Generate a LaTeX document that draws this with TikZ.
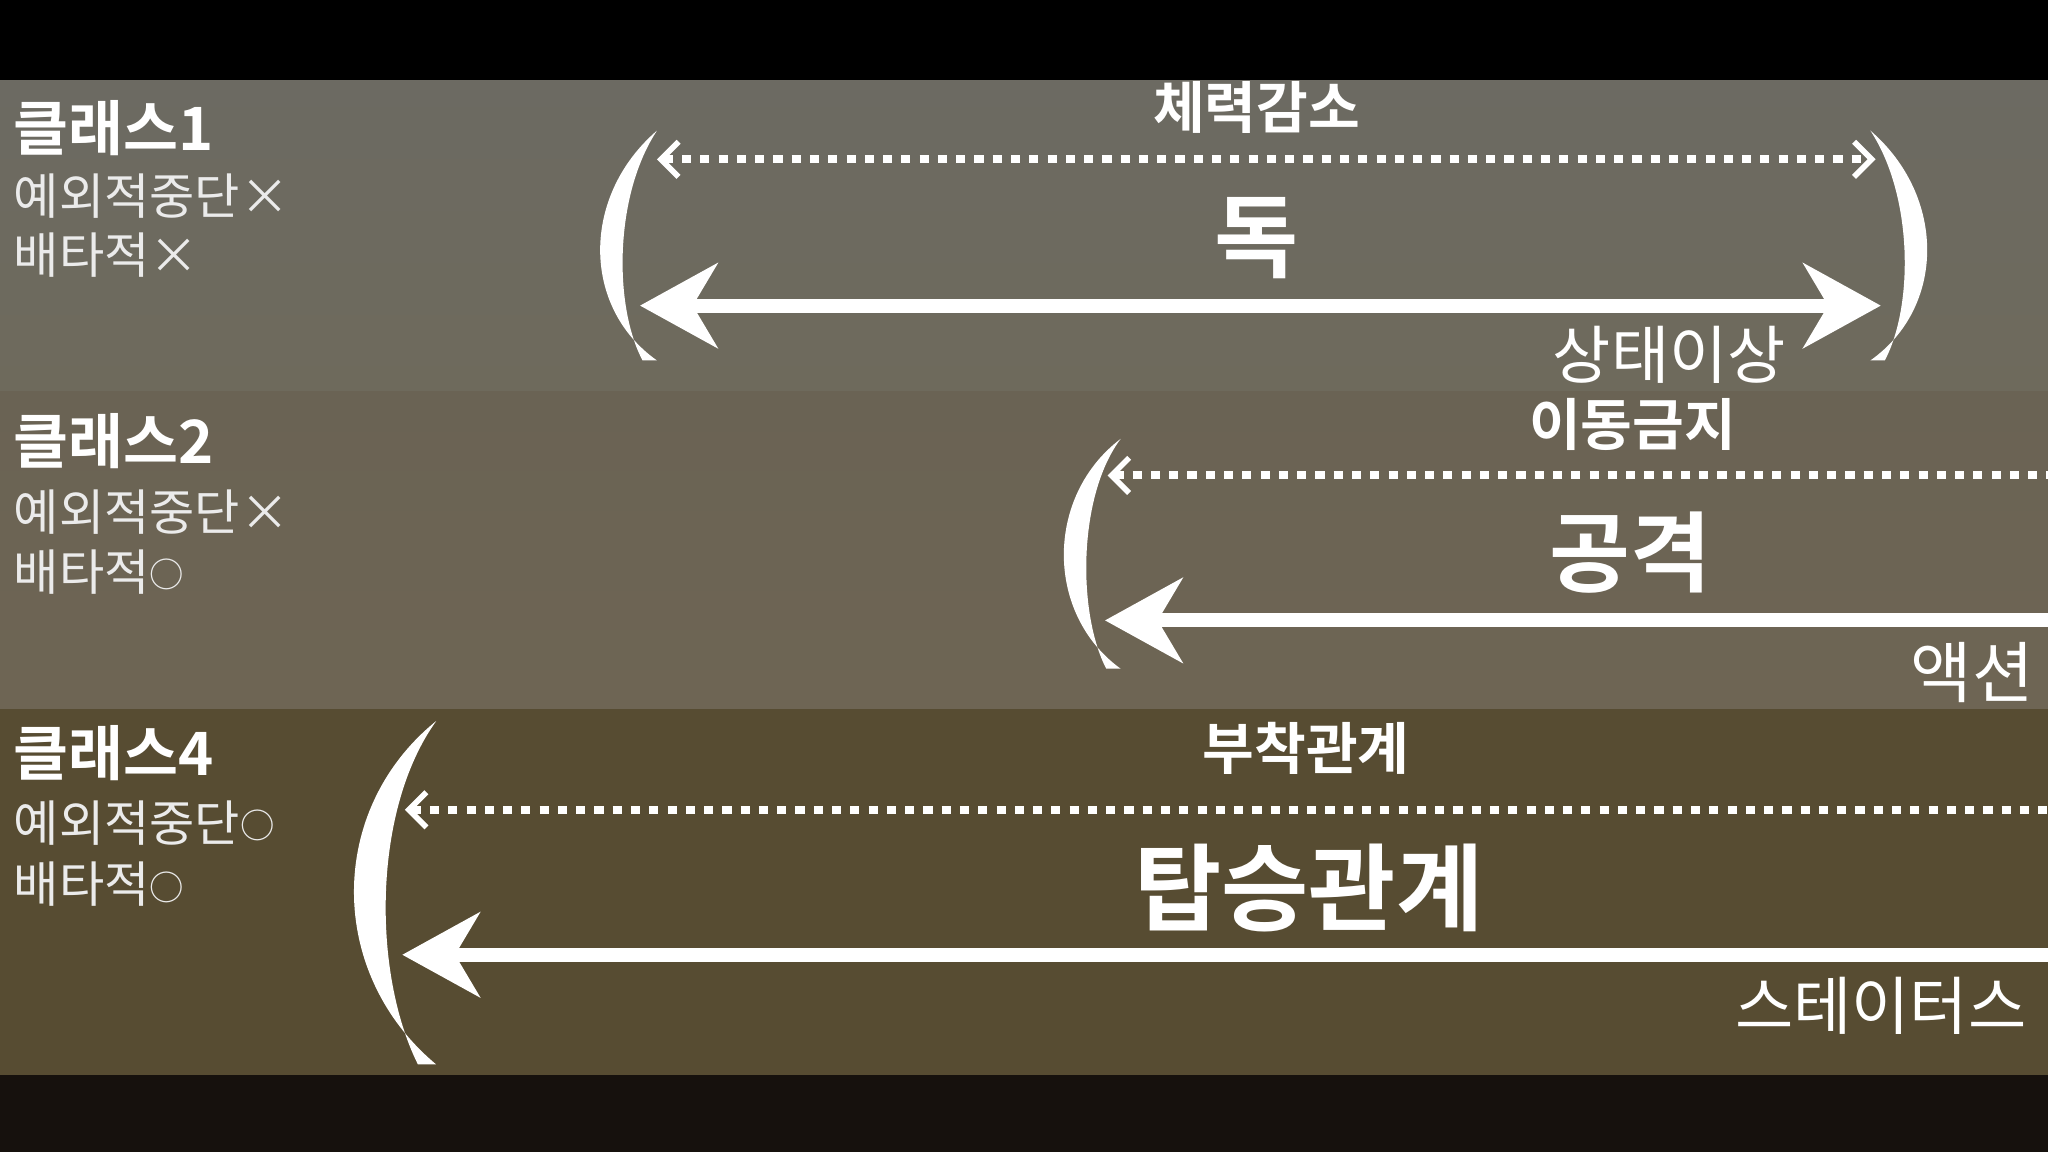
\documentclass[tikz,border=0pt]{standalone}
\usepackage{fontspec}
\setmainfont{Noto Sans CJK KR}
\newfontfamily\krb{Noto Sans CJK KR Bold}
\usetikzlibrary{arrows.meta}
\definecolor{bA}{RGB}{108,106,98}
\definecolor{bB}{RGB}{110,106,92}
\definecolor{bC}{RGB}{106,99,84}
\definecolor{bD}{RGB}{110,101,84}
\definecolor{bE}{RGB}{87,76,50}
\definecolor{bF}{RGB}{22,17,13}
\newcommand{\circmark}{\raisebox{0.1ex}{\scalebox{0.7}{○}}}
\begin{document}
\begin{tikzpicture}[x=0.01306cm,y=-0.01306cm,
 ttl/.style={anchor=north west,font=\krb\fontsize{17}{18}\selectfont,text=white,inner sep=0},
 sub/.style={anchor=west,font=\fontsize{14}{16}\selectfont,text=white!92!black,inner sep=0},
 lbl/.style={font=\krb\fontsize{#1}{#1}\selectfont,text=white,inner sep=0},
 nlb/.style={font=\fontsize{#1}{#1}\selectfont,text=white,inner sep=0},
 barb/.tip={Straight Barb[length=5pt,width=10pt,line width=1.6pt]},
 bighd/.tip={Stealth[length=22pt,width=24pt,inset=7pt]},
 dotar/.style={white,line width=2.3pt,dash pattern=on 2.6pt off 2.6pt,barb-barb},
 solar/.style={white,line width=4pt},
 solarb/.style={white,line width=4pt,bighd-bighd}]
\useasboundingbox (0,0) rectangle (1568,882);
\fill[black] (0,0) rectangle (1568,62);
\shade[top color=bA,bottom color=bB] (0,62) rectangle (1568,300);
\shade[top color=bC,bottom color=bD] (0,300) rectangle (1568,543);
\fill[bE] (0,543) rectangle (1568,823);
\fill[bF] (0,823) rectangle (1568,882);
% left texts
\node[ttl] (t1) at (10,76) {클래스1};
\node[sub] (s1a) at (10,150) {예외적중단×};
\node[sub] (s1b) at (10,195) {배타적×};
\node[ttl] (t2) at (10,316) {클래스2};
\node[sub] (s2a) at (10,392) {예외적중단×};
\node[sub] (s2b) at (10,438) {배타적\circmark};
\node[ttl] (t3) at (10,555) {클래스4};
\node[sub] (s3a) at (10,630) {예외적중단\circmark};
\node[sub] (s3b) at (10,677) {배타적\circmark};
% brackets
\fill[white] (503,100) .. controls (445,150) and (445,235) .. (503,276) -- (492,276) .. controls (470,235) and (470,150) .. (503,100) -- cycle;
\fill[white] (1432,100) .. controls (1490,150) and (1490,235) .. (1432,276) -- (1443,276) .. controls (1465,235) and (1465,150) .. (1432,100) -- cycle;
\fill[white] (858,336) .. controls (800,380) and (800,470) .. (858,512) -- (847,512) .. controls (825,470) and (825,380) .. (858,336) -- cycle;
\fill[white] (334,552) .. controls (250,620) and (250,745) .. (334,815) -- (320,815) .. controls (285,745) and (285,620) .. (334,552) -- cycle;
% band 1
\coordinate (d1l) at (503,122); \coordinate (d1r) at (1436,122);
\coordinate (a1l) at (490,234); \coordinate (a1r) at (1440,234);
\draw[dotar] (d1l) -- (d1r);
\draw[solarb] (a1l) -- (a1r);
\node[lbl=16] (l1a) at (962,82) {체력감소};
\node[lbl=26] (l1b) at (962,182) {독};
\node[nlb=18] (l1c) at (1278,272) {상태이상};
% band 2
\coordinate (d2l) at (848,364); \coordinate (d2r) at (1568,364);
\coordinate (a2l) at (846,475); \coordinate (a2r) at (1568,475);
\draw[dotar,barb-] (d2l) -- (d2r);
\draw[solar,bighd-] (a2l) -- (a2r);
\node[lbl=16] (l2a) at (1250,325) {이동금지};
\node[lbl=25] (l2b) at (1248,423) {공격};
\node[nlb=19] (l2c) at (1510,515) {액션};
% band 3
\coordinate (d3l) at (310,620); \coordinate (d3r) at (1568,620);
\coordinate (a3l) at (308,731); \coordinate (a3r) at (1568,731);
\draw[dotar,barb-] (d3l) -- (d3r);
\draw[solar,bighd-] (a3l) -- (a3r);
\node[lbl=16] (l3a) at (1000,573) {부착관계};
\node[lbl=27] (l3b) at (1002,680) {탑승관계};
\node[nlb=18] (l3c) at (1440,770) {스테이터스};
\end{tikzpicture}
\end{document}
